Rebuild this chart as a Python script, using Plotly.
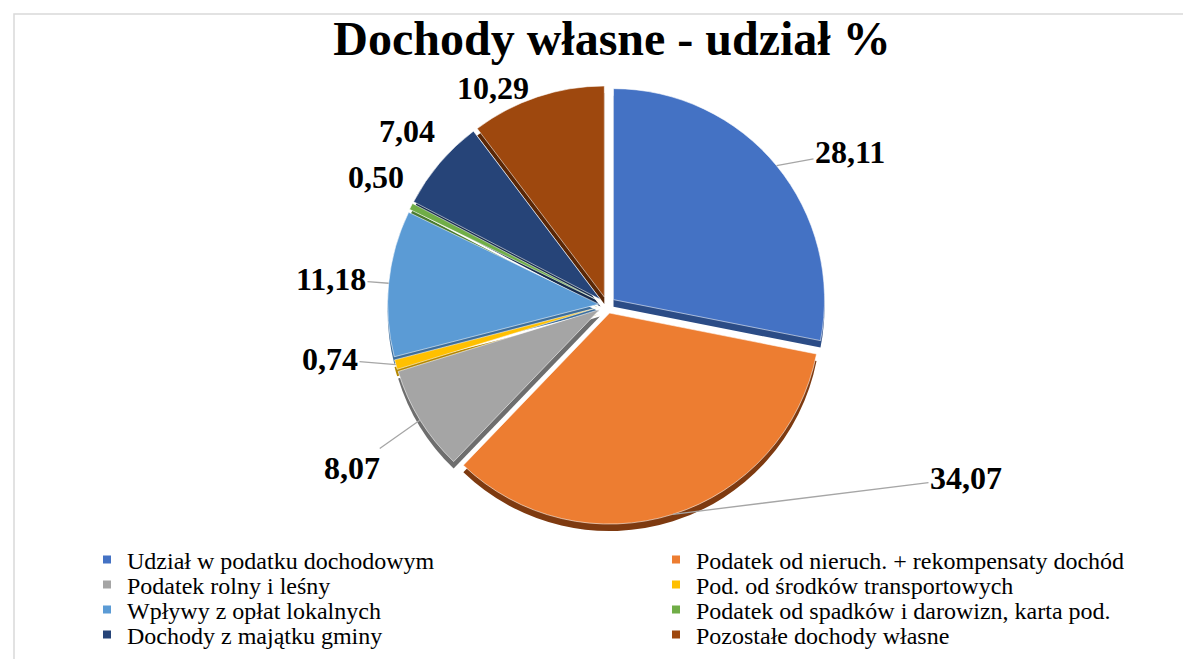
import math
import plotly.graph_objects as go

# ---------------- data ----------------
labels = [
    "Udział w podatku dochodowym",
    "Podatek od nieruch. + rekompensaty dochód",
    "Podatek rolny i leśny",
    "Pod. od środków transportowych",
    "Wpływy z opłat lokalnych",
    "Podatek od spadków i darowizn, karta pod.",
    "Dochody z majątku gminy",
    "Pozostałe dochody własne",
]
values = [28.11, 34.07, 8.07, 0.74, 11.18, 0.50, 7.04, 10.29]
colors = ["#4472C4", "#ED7D31", "#A5A5A5", "#FFC000", "#5B9BD5", "#70AD47", "#264478", "#9E480E"]
side_colors = ["#2B4C86", "#7E3A10", "#6E6E6E", "#B38600", "#3D6E9C", "#4A7A2E", "#172B4D", "#5A2706"]
title_text = "Dochody własne - udział %"

# label placement (pixel positions of value labels) and whether a leader line is drawn
label_pos = [(842, 144), (958, 470), (344, 460), (322, 351), (323, 271), (368, 169), (399, 123), (485, 80)]
leader = [True, True, True, True, True, False, False, False]

# legend grid (pixel positions: text start x per column, row centre y)
legend_cols = [128, 697]
legend_rows = [552, 577, 602, 627]

# ---------------- geometry ----------------
W, H = 1191, 659
CX, CY, R, PULL, DEPTH = 599, 297, 211, 0.04, 7
half = R * (1 + PULL)
dom_x = [(CX - half) / W, (CX + half) / W]
dom_y = [1 - (CY + half) / H, 1 - (CY - half) / H]
dom_y_shadow = [dom_y[0] - DEPTH / H, dom_y[1] - DEPTH / H]

SERIF = "Liberation Serif, Times New Roman, serif"

fig = go.Figure()

# 3D side (shadow) pie
fig.add_trace(go.Pie(
    labels=labels, values=values, sort=False, direction="clockwise", rotation=0,
    pull=[PULL] * len(values),
    marker=dict(colors=side_colors, line=dict(color="rgba(0,0,0,0)", width=0)),
    textinfo="none", hoverinfo="skip", showlegend=False,
    domain=dict(x=dom_x, y=dom_y_shadow),
))

# main pie
fig.add_trace(go.Pie(
    labels=labels, values=values, sort=False, direction="clockwise", rotation=0,
    pull=[PULL] * len(values),
    marker=dict(colors=colors, line=dict(color="rgba(255,255,255,0.7)", width=0.8)),
    textinfo="none", showlegend=False,
    domain=dict(x=dom_x, y=dom_y),
))

# legend entries: one small legend per cell of the 2-column grid
legend_layouts = {}
for i, (lab, col) in enumerate(zip(labels, colors)):
    key = "legend" if i == 0 else f"legend{i + 1}"
    fig.add_trace(go.Scatter(
        x=[None], y=[None], mode="markers", name=lab,
        marker=dict(symbol="square", size=8, color=col),
        legend=key, showlegend=True, hoverinfo="skip",
    ))
    tx = legend_cols[i % 2]
    ty = legend_rows[i // 2]
    legend_layouts[key] = dict(
        x=(tx - 49) / W, xanchor="left", y=1 - ty / H, yanchor="middle",
        font=dict(family=SERIF, size=24, color="black"),
        itemwidth=30, bgcolor="rgba(0,0,0,0)", borderwidth=0,
    )

# value labels (with leader lines) computed from the slice angles
total = sum(values)
cum = 0.0
annotations = []
for v, (lx, ly), has_line in zip(values, label_pos, leader):
    mid = (cum + v / 2) / total * 2 * math.pi
    cum += v
    txt = "<b>" + f"{v:.2f}".replace(".", ",") + "</b>"
    font = dict(family=SERIF, size=32, color="black")
    if has_line:
        px = CX + R * (1 + PULL) * math.sin(mid)
        py = CY - R * (1 + PULL) * math.cos(mid)
        annotations.append(dict(
            x=px / W, y=1 - py / H, xref="paper", yref="paper",
            ax=lx - px, ay=ly - py, text=txt, font=font,
            showarrow=True, arrowhead=0, arrowwidth=1.3, arrowcolor="#A6A6A6",
            standoff=0, startstandoff=0,
        ))
    else:
        annotations.append(dict(
            x=lx / W, y=1 - ly / H, xref="paper", yref="paper",
            xanchor="center", yanchor="middle", text=txt, font=font, showarrow=False,
        ))

fig.update_layout(
    width=W, height=H,
    margin=dict(l=0, r=0, t=0, b=0),
    paper_bgcolor="white", plot_bgcolor="white",
    xaxis=dict(visible=False), yaxis=dict(visible=False),
    title=dict(text="<b>" + title_text + "</b>", x=604 / W, xanchor="center",
               y=1 - 30 / H, yanchor="middle", yref="container",
               font=dict(family=SERIF, size=48, color="black")),
    annotations=annotations,
    shapes=[dict(type="rect", xref="paper", yref="paper",
                 x0=6 / W, x1=1.02, y0=-0.02, y1=1 - 6 / H,
                 line=dict(color="#D9D9D9", width=1.5), layer="below")],
    **legend_layouts,
)

fig.write_html("out.html")
